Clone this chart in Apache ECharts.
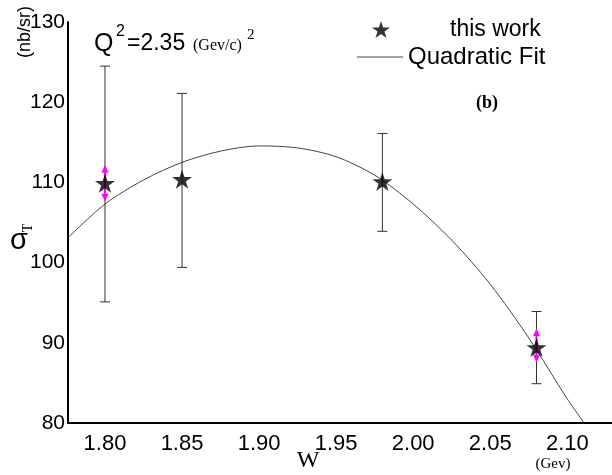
<!DOCTYPE html>
<html>
<head>
<meta charset="utf-8">
<script src="https://cdn.jsdelivr.net/npm/echarts@6/dist/echarts.min.js"></script>
<style>
  html, body { margin: 0; padding: 0; background: #fff; }
  #chart { width: 612px; height: 475px; }
</style>
</head>
<body>
<div id="chart"></div>
<script>
// measured points (W in GeV, sigma_T in nb/sr)
const wData = [1.80, 1.85, 1.98, 2.08];
const sigmaT = [109.9, 110.4, 110.1, 89.4];
const errLow = [95.1, 99.4, 103.9, 84.9];
const errHigh = [124.5, 121.1, 116.1, 93.9];

// smaller magenta arrows on two points
const statW = [1.80, 2.08];
const statLow = [107.6, 87.5];
const statHigh = [112.2, 91.8];

// quadratic fit curve
const fitW = [1.776, 1.80, 1.825, 1.85, 1.875, 1.90, 1.925, 1.95, 1.975, 2.00, 2.025, 2.05, 2.075, 2.10, 2.111];
const fitS = [103.1, 107.3, 110.3, 112.5, 113.9, 114.55, 114.3, 113.2, 110.9, 107.3, 102.8, 97.3, 90.6, 83.0, 80.0];

const xTicks = [1.80, 1.85, 1.90, 1.95, 2.00, 2.05, 2.10];

const sans = 'Liberation Sans';
const serif = 'Liberation Serif';
const starPath = 'path://M50,0L61.2,34.5L97.6,34.5L68.2,55.9L79.4,90.5L50,69.1L20.6,90.5L31.8,55.9L2.4,34.5L38.8,34.5Z';

const chart = echarts.init(document.getElementById('chart'), null, { renderer: 'canvas' });

const errData = wData.map((w, i) => [w, errLow[i], errHigh[i]]);
const statData = statW.map((w, i) => [w, statLow[i], statHigh[i]]);

function renderErr(params, api) {
    const lo = api.coord([api.value(0), api.value(1)]);
    const hi = api.coord([api.value(0), api.value(2)]);
    const hw = 5;
    const st = { stroke: '#333', lineWidth: 1 };
    return {
        type: 'group',
        children: [
            { type: 'line', shape: { x1: lo[0], y1: lo[1], x2: hi[0], y2: hi[1] }, style: st },
            { type: 'line', shape: { x1: lo[0] - hw, y1: lo[1], x2: lo[0] + hw, y2: lo[1] }, style: st },
            { type: 'line', shape: { x1: hi[0] - hw, y1: hi[1], x2: hi[0] + hw, y2: hi[1] }, style: st }
        ]
    };
}

function renderArrow(params, api) {
    const lo = api.coord([api.value(0), api.value(1)]);
    const hi = api.coord([api.value(0), api.value(2)]);
    const c = '#ff00ff';
    const hl = 8, hw = 3.5;
    return {
        type: 'group',
        children: [
            { type: 'line', shape: { x1: lo[0], y1: lo[1] - hl, x2: hi[0], y2: hi[1] + hl }, style: { stroke: c, lineWidth: 2 } },
            { type: 'polygon', shape: { points: [[hi[0], hi[1]], [hi[0] - hw, hi[1] + hl], [hi[0] + hw, hi[1] + hl]] }, style: { fill: c } },
            { type: 'polygon', shape: { points: [[lo[0], lo[1]], [lo[0] - hw, lo[1] - hl], [lo[0] + hw, lo[1] - hl]] }, style: { fill: c } }
        ]
    };
}

const option = {
    animation: false,
    backgroundColor: '#fff',
    grid: { left: 68, right: 0, top: 22, bottom: 52 },
    xAxis: {
        type: 'value',
        min: 1.776,
        max: 2.129,
        splitLine: { show: false },
        axisTick: { show: false },
        axisLine: { onZero: false, lineStyle: { color: '#000', width: 2 } },
        axisLabel: {
            customValues: xTicks,
            margin: 10,
            color: '#000',
            fontFamily: sans,
            fontSize: 22,
            formatter: v => v.toFixed(2)
        }
    },
    yAxis: {
        type: 'value',
        min: 80,
        max: 130,
        interval: 10,
        splitLine: { show: false },
        axisTick: { show: false },
        axisLine: { show: true, lineStyle: { color: '#000', width: 2 } },
        axisLabel: { margin: 3, color: '#000', fontFamily: sans, fontSize: 21 }
    },
    legend: [
        {
            data: [{ name: 'this work', icon: starPath }],
            left: 367, top: 13,
            itemWidth: 18, itemHeight: 18,
            selectedMode: false,
            textStyle: { fontFamily: sans, fontSize: 23, color: '#000', padding: [0, 0, 0, 55] }
        },
        {
            data: [{ name: 'Quadratic Fit', icon: 'rect' }],
            left: 352, top: 40,
            itemWidth: 46, itemHeight: 1,
            selectedMode: false,
            textStyle: { fontFamily: sans, fontSize: 24, color: '#000' }
        }
    ],
    series: [
        {
            name: 'Quadratic Fit',
            type: 'line',
            data: fitW.map((w, i) => [w, fitS[i]]),
            smooth: 0.3,
            symbol: 'none',
            itemStyle: { color: '#444' },
            lineStyle: { color: '#444', width: 1 },
            z: 2
        },
        {
            name: 'errors',
            type: 'custom',
            data: errData,
            encode: { x: 0, y: [1, 2] },
            renderItem: renderErr,
            z: 3
        },
        {
            name: 'stat',
            type: 'custom',
            data: statData,
            encode: { x: 0, y: [1, 2] },
            renderItem: renderArrow,
            z: 4
        },
        {
            name: 'this work',
            type: 'scatter',
            data: wData.map((w, i) => [w, sigmaT[i]]),
            symbol: starPath,
            symbolKeepAspect: true,
            symbolSize: 20,
            itemStyle: { color: '#000' },
            z: 5
        }
    ],
    graphic: [
        { type: 'text', x: 25, y: 32, rotation: Math.PI / 2,
          style: { text: '(nb/sr)', fontFamily: sans, fontSize: 18, fill: '#000', align: 'center', verticalAlign: 'middle' } },
        { type: 'text', x: 19, y: 241,
          style: { text: 'σ', fontFamily: sans, fontSize: 29, fill: '#000', align: 'center', verticalAlign: 'middle' } },
        { type: 'text', x: 28, y: 228, rotation: Math.PI / 2,
          style: { text: 'T', fontFamily: serif, fontSize: 14, fill: '#000', align: 'center', verticalAlign: 'middle' } },
        { type: 'text', x: 94, y: 44,
          style: { text: 'Q', fontFamily: sans, fontSize: 25, fill: '#000', align: 'left', verticalAlign: 'middle' } },
        { type: 'text', x: 116, y: 32,
          style: { text: '2', fontFamily: sans, fontSize: 16, fill: '#000', align: 'left', verticalAlign: 'middle' } },
        { type: 'text', x: 127, y: 44,
          style: { text: '=2.35', fontFamily: sans, fontSize: 23, fill: '#000', align: 'left', verticalAlign: 'middle' } },
        { type: 'text', x: 193, y: 46,
          style: { text: '(Gev/c)', fontFamily: serif, fontSize: 16, fill: '#000', align: 'left', verticalAlign: 'middle' } },
        { type: 'text', x: 247, y: 35,
          style: { text: '2', fontFamily: serif, fontSize: 15, fill: '#000', align: 'left', verticalAlign: 'middle' } },
        { type: 'text', x: 487, y: 103,
          style: { text: '(b)', fontFamily: serif, fontWeight: 'bold', fontSize: 18, fill: '#000', align: 'center', verticalAlign: 'middle' } },
        { type: 'text', x: 308, y: 461,
          style: { text: 'W', fontFamily: serif, fontSize: 24, fill: '#000', align: 'center', verticalAlign: 'middle' } },
        { type: 'text', x: 553, y: 464,
          style: { text: '(Gev)', fontFamily: serif, fontSize: 15, fill: '#000', align: 'center', verticalAlign: 'middle' } }
    ]
};

chart.setOption(option);
</script>
</body>
</html>
